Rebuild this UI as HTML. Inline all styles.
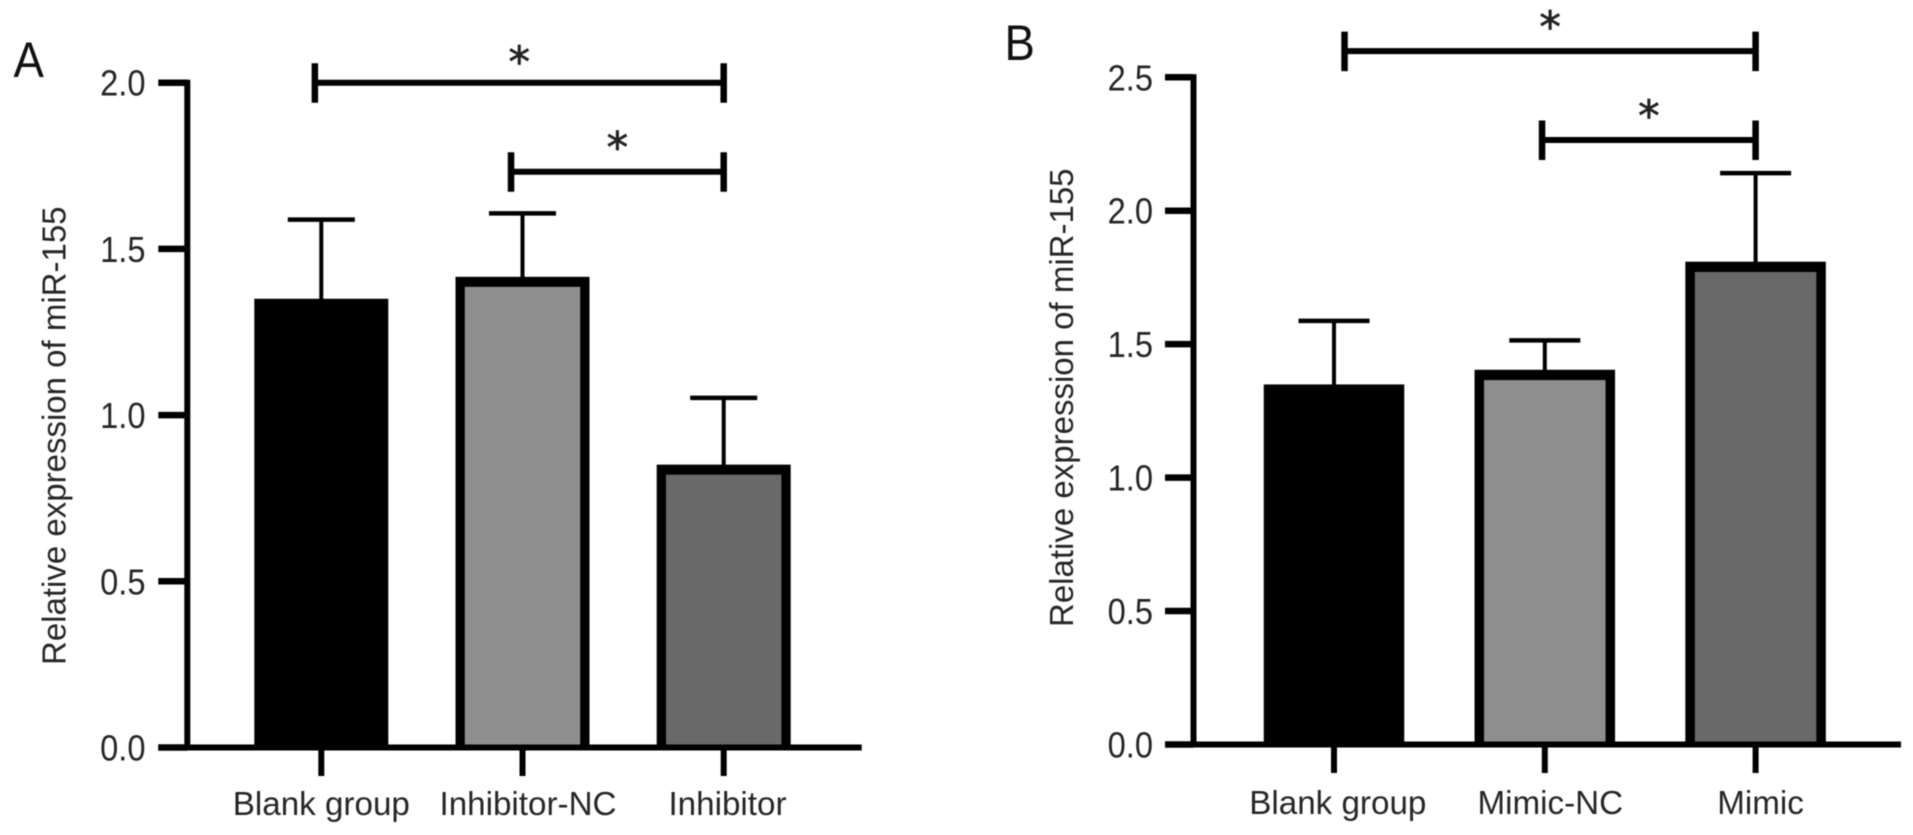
<!DOCTYPE html>
<html lang="en">
<head>
<meta charset="utf-8">
<title>Relative expression of miR-155</title>
<style>
html,body{margin:0;padding:0;background:#fff;}
body{width:1913px;height:835px;overflow:hidden;}
svg{display:block;font-family:"Liberation Sans",Arial,sans-serif;filter:blur(0.5px);}
</style>
</head>
<body>
<svg id="figure" xmlns="http://www.w3.org/2000/svg" width="1913" height="835" viewBox="0 0 1913 835"></svg>
<script>
// Panel A data
const panelACategories = ['Blank group', 'Inhibitor-NC', 'Inhibitor'];
const panelAValues = [1.35, 1.416, 0.851];
const panelAErrors = [0.238, 0.191, 0.201];
const panelATicks = [0, 0.5, 1, 1.5, 2];
const panelATickLabels = ['0.0', '0.5', '1.0', '1.5', '2.0'];
const panelABracketFrom = [-0.032, 0.943];
const panelABracketTo = [2, 2];
const panelABracketLevel = [2.0, 1.732];

// Panel B data
const panelBCategories = ['Blank group', 'Mimic-NC', 'Mimic'];
const panelBValues = [1.349, 1.404, 1.809];
const panelBErrors = [0.238, 0.11, 0.332];
const panelBTicks = [0, 0.5, 1, 1.5, 2, 2.5];
const panelBTickLabels = ['0.0', '0.5', '1.0', '1.5', '2.0', '2.5'];
const panelBBracketFrom = [0.05, 0.987];
const panelBBracketTo = [2, 2];
const panelBBracketLevel = [2.598, 2.265];

const barFills = ['#000000', '#8e8e8e', '#696969'];
const yAxisTitle = 'Relative expression of miR-155';

const svg = document.getElementById('figure');
const NS = 'http://www.w3.org/2000/svg';
const INK = '#000000';
const TEXT = '#262626';

function shape(parent, tag, props) {
  const el = document.createElementNS(NS, tag);
  for (const k in props) el.setAttribute(k, props[k]);
  parent.appendChild(el);
  return el;
}

function drawPanel(p) {
  const yScale = v => p.zeroY - v * p.pxPerUnit;
  const xScale = i => p.firstX + i * p.stepX;

  const g = shape(svg, 'g', {});
  
  

  // Panel letter
  const letter = shape(g, 'text', {
    transform: 'translate(' + p.letterX + ',' + p.letterY + ') scale(0.93,1.02)',
    'font-size': 49, fill: '#111'
  });
  letter.textContent = p.letter;
  
  

  // Y title
  const title = shape(g, 'text', {
    transform: 'translate(' + p.titleX + ',' + p.titleY + ') rotate(-90)',
    'font-size': 33, fill: TEXT
  });
  title.textContent = yAxisTitle;
  
  

  // Bars and error bars
  p.values.forEach((v, i) => {
    const cx = xScale(i);
    const top = yScale(v);
    const errTop = yScale(v + p.errors[i]);

    const stem = shape(g, 'line', {x1: cx, x2: cx, y1: errTop, y2: top + 4, stroke: INK, 'stroke-width': 4});
    
    

    const cap = shape(g, 'line', {x1: cx - p.capHalf, x2: cx + p.capHalf, y1: errTop, y2: errTop, stroke: INK, 'stroke-width': 4.5});
    
    

    const outer = shape(g, 'rect', {x: cx - p.barWidth / 2, y: top, width: p.barWidth, height: p.zeroY - top, fill: INK});
    
    

    const inner = shape(g, 'rect', {
      x: cx - p.barWidth / 2 + p.borderX, y: top + p.borderTop,
      width: p.barWidth - 2 * p.borderX, height: Math.max(0, p.zeroY - top - p.borderTop),
      fill: barFills[i]
    });
    
    
  });

  // Y axis
  const topTick = p.ticks[p.ticks.length - 1];
  const yAxis = shape(g, 'line', {x1: p.axisX, x2: p.axisX, y1: yScale(topTick) - 3, y2: p.zeroY + 3, stroke: INK, 'stroke-width': 6});
  
  

  p.ticks.forEach((t, i) => {
    const y = yScale(t);
    const tick = shape(g, 'line', {x1: p.tickLeft, x2: p.axisX, y1: y, y2: y, stroke: INK, 'stroke-width': 6.5});
    
    

    const label = shape(g, 'text', {
      transform: 'translate(' + p.labelRight + ',' + (y + 13) + ') scale(0.96,1.05)',
      'text-anchor': 'end', 'font-size': 34, fill: TEXT
    });
    label.textContent = p.tickLabels[i];
    
    
  });

  // X axis
  const xAxis = shape(g, 'line', {x1: p.tickLeft, x2: p.axisEnd, y1: p.zeroY, y2: p.zeroY, stroke: INK, 'stroke-width': 6});
  
  

  p.categories.forEach((c, i) => {
    const cx = xScale(i);
    const tick = shape(g, 'line', {x1: cx, x2: cx, y1: p.zeroY, y2: p.zeroY + 28.5, stroke: INK, 'stroke-width': 6});
    
    

    const label = shape(g, 'text', {x: cx + p.labelNudge[i], y: p.labelY, 'text-anchor': 'middle', 'font-size': 33.2, fill: TEXT});
    label.textContent = c;
    
    
  });

  // Significance brackets
  p.bracketLevel.forEach((lvl, i) => {
    const x1 = xScale(p.bracketFrom[i]);
    const x2 = xScale(p.bracketTo[i]);
    const y = yScale(lvl);

    const line = shape(g, 'line', {x1: x1, x2: x2, y1: y, y2: y, stroke: INK, 'stroke-width': 6});
    
    

    const leftEnd = shape(g, 'line', {x1: x1, x2: x1, y1: y - 19.5, y2: y + 20, stroke: INK, 'stroke-width': 6.5});
    
    

    const rightEnd = shape(g, 'line', {x1: x2, x2: x2, y1: y - 19.5, y2: y + 20, stroke: INK, 'stroke-width': 6.5});
    
    

    const star = shape(g, 'text', {
      x: (x1 + x2) / 2, y: y - p.starLift[i] + 20, 'text-anchor': 'middle', 'font-size': 43,
      fill: '#222', stroke: '#222', 'stroke-width': 0.7, 'font-family': '"DejaVu Sans",sans-serif'
    });
    star.textContent = '*';
    
    
  });
}

drawPanel({
  id: 'panel-a', letter: 'A', letterX: 13.5, letterY: 77,
  titleX: 65.5, titleY: 665,
  categories: panelACategories, values: panelAValues, errors: panelAErrors,
  ticks: panelATicks, tickLabels: panelATickLabels,
  bracketFrom: panelABracketFrom, bracketTo: panelABracketTo, bracketLevel: panelABracketLevel,
  starLift: [25.5, 29.5],
  zeroY: 747.5, pxPerUnit: 332.4,
  firstX: 321.3, stepX: 201.2, barWidth: 134, borderX: 9.3, borderTop: 10, capHalf: 33.5,
  axisX: 187.3, tickLeft: 158.3, axisEnd: 861.7, labelRight: 145.5,
  labelY: 815, labelNudge: [0, 5.5, 3.8]
});

drawPanel({
  id: 'panel-b', letter: 'B', letterX: 1004.5, letterY: 60,
  titleX: 1073, titleY: 627,
  categories: panelBCategories, values: panelBValues, errors: panelBErrors,
  ticks: panelBTicks, tickLabels: panelBTickLabels,
  bracketFrom: panelBBracketFrom, bracketTo: panelBBracketTo, bracketLevel: panelBBracketLevel,
  starLift: [29, 29],
  zeroY: 744.5, pxPerUnit: 266.9,
  firstX: 1334, stepX: 210.8, barWidth: 140.5, borderX: 9.5, borderTop: 10.3, capHalf: 35.5,
  axisX: 1193.5, tickLeft: 1165, axisEnd: 1901, labelRight: 1153,
  labelY: 814, labelNudge: [3.8, 5.5, 5]
});
</script>
</body>
</html>
